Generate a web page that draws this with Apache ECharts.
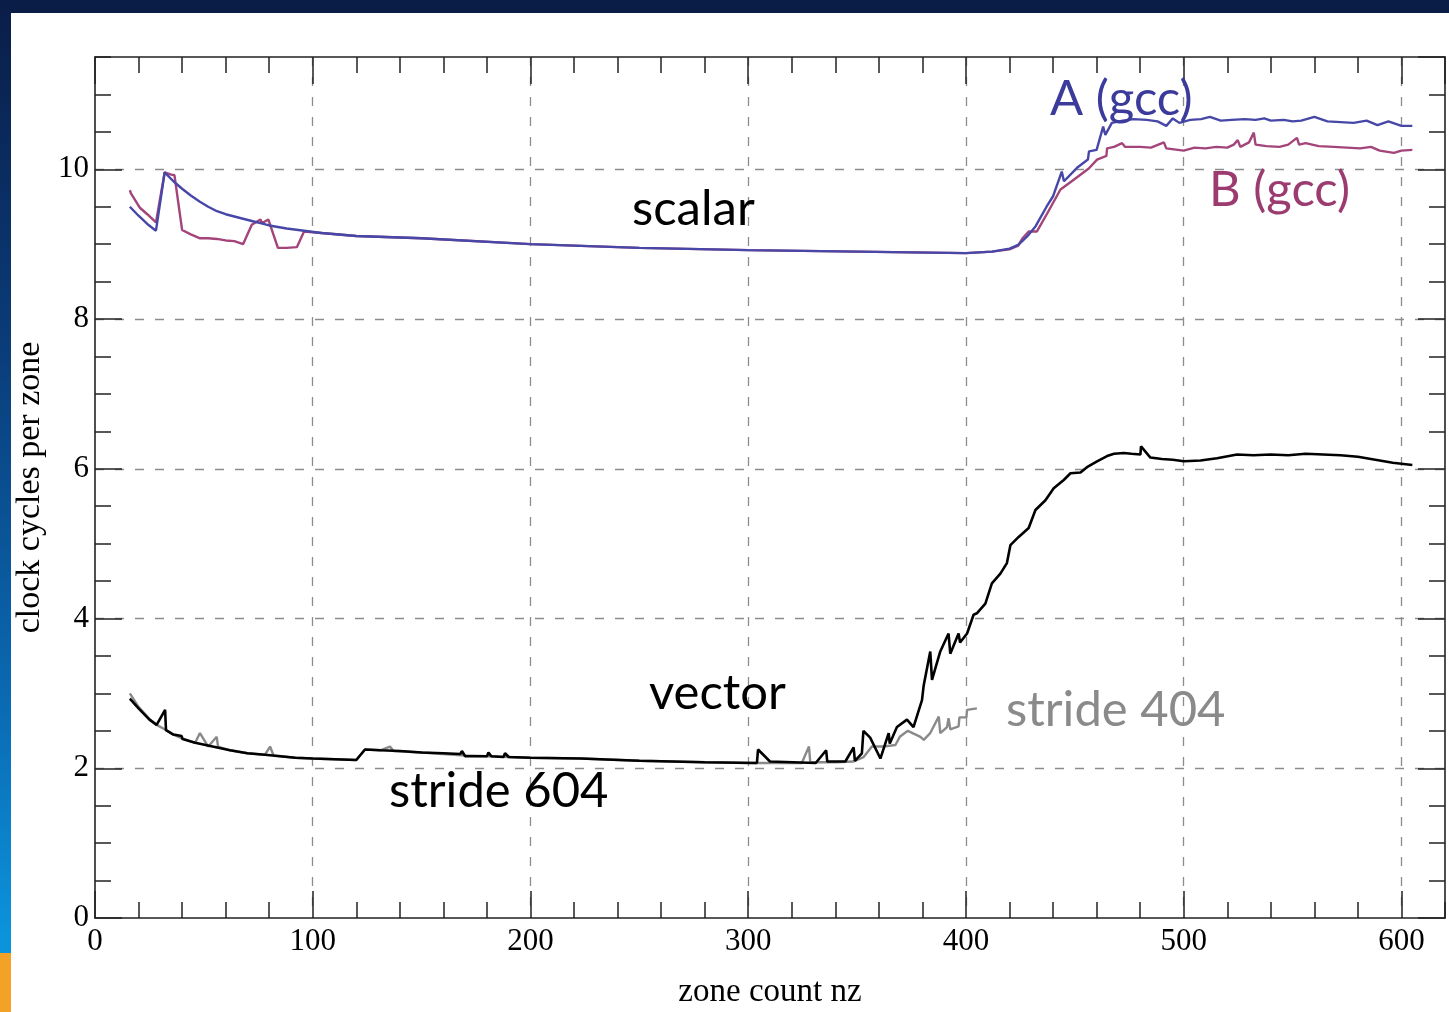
<!DOCTYPE html>
<html>
<head>
<meta charset="utf-8">
<title>clock cycles per zone</title>
<script src="https://cdn.jsdelivr.net/npm/echarts@6/dist/echarts.min.js"></script>
<style>
  html, body { margin: 0; padding: 0; background: #ffffff; }
  #chart { width: 1449px; height: 1012px; }
</style>
</head>
<body>
<div id="chart"></div>
<script>
// zone count nz (x) and clock cycles per zone (y) for each run

// scalar, compiler A (gcc)
const scalarAx = [16, 20, 24, 28, 32, 36, 40, 44, 48, 52, 56, 60, 64, 68, 72, 76, 80, 88, 96, 104,
  120, 150, 200, 250, 300, 350, 400, 412, 420, 424, 428, 432, 437, 440, 444, 445, 451, 456, 456.5,
  460, 463, 464, 467, 472, 477, 483, 488, 492, 495, 498, 503, 508, 512, 517, 522, 528, 533, 537,
  540, 546, 550, 554, 560, 566, 572, 578, 584, 589, 594, 600, 605];
const scalarAy = [9.50, 9.38, 9.27, 9.18, 9.96, 9.84, 9.74, 9.65, 9.57, 9.50, 9.44, 9.40, 9.37, 9.34, 9.31, 9.28, 9.25, 9.21, 9.18, 9.15,
  9.11, 9.08, 9.00, 8.95, 8.92, 8.90, 8.88, 8.90, 8.94, 8.99, 9.10, 9.24, 9.50, 9.64, 9.97, 9.84, 10.02, 10.13, 10.24,
  10.26, 10.57, 10.46, 10.62, 10.65, 10.67, 10.66, 10.64, 10.58, 10.68, 10.62, 10.66, 10.67, 10.70, 10.65, 10.66, 10.67, 10.66, 10.68,
  10.65, 10.66, 10.64, 10.65, 10.70, 10.64, 10.63, 10.62, 10.65, 10.59, 10.64, 10.58, 10.58];

// scalar, compiler B (gcc)
const scalarBx = [16, 16.5, 20.5, 24, 28, 32, 35, 36.5, 40, 44, 48, 52, 56, 60, 64, 68, 72, 76, 76.6, 79.6,
  84, 88, 92.7, 96, 104, 120, 150, 200, 250, 300, 350, 400, 412, 420, 424, 426, 428.8, 432.6, 437.3,
  443.4, 449.5, 456.4, 460.2, 464.5, 464.8, 468, 471.7, 472.5, 473, 480, 485, 490.9, 492, 500, 505, 510,
  515, 520, 523, 524.8, 526, 530, 532.2, 533, 538, 544, 548, 552, 553, 556, 562, 569, 575, 581, 586,
  590, 596.5, 600, 605];
const scalarBy = [9.72, 9.68, 9.49, 9.40, 9.29, 9.96, 9.93, 9.92, 9.19, 9.13, 9.08, 9.08, 9.07, 9.05, 9.04, 9.00, 9.26, 9.33, 9.28, 9.33,
  8.95, 8.95, 8.96, 9.17, 9.15, 9.11, 9.08, 9.00, 8.95, 8.92, 8.90, 8.88, 8.90, 8.93, 8.98, 9.08, 9.17, 9.17, 9.41,
  9.73, 9.86, 10.01, 10.13, 10.18, 10.28, 10.30, 10.35, 10.36, 10.30, 10.30, 10.29, 10.36, 10.28, 10.25, 10.29, 10.28,
  10.30, 10.29, 10.33, 10.39, 10.30, 10.36, 10.49, 10.33, 10.31, 10.30, 10.33, 10.42, 10.33, 10.35, 10.31, 10.30, 10.29, 10.28, 10.30,
  10.25, 10.22, 10.25, 10.26];

// vector, stride 604
const vec604x = [16, 20, 25, 28.3, 32.2, 32.6, 36, 39.8, 40.2, 46, 54, 62, 70, 78, 85, 92, 100, 110, 120, 124,
  131, 140, 150, 160, 167.7, 168.5, 170, 180, 180.7, 182, 187.6, 188.3, 190, 200, 223, 250, 280, 304, 304.5, 310,
  331, 335.8, 336.3, 344.6, 348.4, 349, 352.2, 352.9, 356, 360.7, 364.5, 365, 368.3, 372.9, 375.9, 379.8, 380.6, 383.6,
  384.4, 388.2, 392, 392.8, 396.6, 397.3, 400.5, 403.5, 405, 408.9, 411.9, 415.8, 418.8, 420.4, 424.2, 428.8, 431.9,
  436.5, 440.3, 444.9, 448, 452.6, 456, 460.2, 464.8, 468, 472.5, 476, 480.1, 480.4, 484.7, 490, 495, 500, 507.7,
  515.3, 524.5, 532, 540, 548, 556, 564, 572, 580, 588, 596, 605];
const vec604y = [2.93, 2.80, 2.65, 2.58, 2.78, 2.51, 2.45, 2.43, 2.39, 2.34, 2.29, 2.24, 2.20, 2.18, 2.16, 2.14, 2.13, 2.12, 2.11, 2.25,
  2.24, 2.23, 2.21, 2.20, 2.19, 2.23, 2.16, 2.16, 2.21, 2.16, 2.15, 2.20, 2.15, 2.14, 2.13, 2.10, 2.08, 2.07, 2.25, 2.09,
  2.07, 2.24, 2.09, 2.09, 2.28, 2.10, 2.20, 2.50, 2.41, 2.13, 2.47, 2.33, 2.55, 2.65, 2.55, 2.91, 3.11, 3.56,
  3.18, 3.56, 3.80, 3.53, 3.80, 3.68, 3.80, 4.05, 4.07, 4.20, 4.47, 4.60, 4.74, 4.98, 5.09, 5.21, 5.45,
  5.58, 5.74, 5.85, 5.94, 5.95, 6.03, 6.10, 6.17, 6.20, 6.21, 6.20, 6.19, 6.30, 6.15, 6.13, 6.12, 6.10, 6.11,
  6.14, 6.19, 6.18, 6.19, 6.18, 6.20, 6.19, 6.18, 6.16, 6.12, 6.08, 6.05];

// vector, stride 404
const vec404x = [16, 20, 25, 28.3, 32.6, 36, 40, 46, 48.2, 52, 55.9, 56.5, 62, 70, 78, 80.4, 82, 92, 100, 110,
  120, 124, 131, 135.5, 137, 150, 170, 200, 223, 250, 280, 300, 324.6, 327.9, 328.5, 340, 348.4, 353, 356.8,
  362.2, 367.6, 369.6, 373.3, 379.1, 380.6, 383.6, 384.5, 387.5, 388.2, 391.3, 392, 392.8, 396.6, 397, 400.2,
  400.5, 405];
const vec404y = [3.00, 2.82, 2.66, 2.58, 2.51, 2.45, 2.40, 2.34, 2.47, 2.29, 2.42, 2.29, 2.24, 2.20, 2.18, 2.29, 2.17, 2.14, 2.13, 2.12,
  2.11, 2.25, 2.24, 2.29, 2.23, 2.21, 2.17, 2.14, 2.13, 2.10, 2.08, 2.07, 2.07, 2.29, 2.08, 2.08, 2.09, 2.15, 2.29,
  2.29, 2.31, 2.42, 2.50, 2.42, 2.38, 2.47, 2.45, 2.69, 2.47, 2.55, 2.67, 2.52, 2.56, 2.68, 2.68,
  2.78, 2.80];

// axis ranges and tick spacing
const xRange = [0, 620];
const yRange = [0, 11.5];
const xMajor = 100, xMinor = 20;
const yMajor = 2, yMinor = 0.5;

const pairs = (xs, ys) => xs.map((x, i) => [x, ys[i]]);

const SERIF = '"Liberation Serif", "DejaVu Serif", serif';
const SANS = 'Lato, "Open Sans", sans-serif';
const FRAME = '#222222';

function axisDef(dim, pos, major, showLabels) {
  const range = dim === 'x' ? xRange : yRange;
  const step = major ? (dim === 'x' ? xMajor : yMajor) : (dim === 'x' ? xMinor : yMinor);
  const main = major && showLabels;
  return {
    type: 'value',
    position: pos,
    min: range[0],
    max: range[1],
    interval: step,
    axisLine: { show: major, onZero: false, lineStyle: { color: FRAME, width: 1.6 } },
    axisTick: { show: true, inside: true, length: major ? 27 : 16, lineStyle: { color: FRAME, width: 1.5 } },
    axisLabel: {
      show: main,
      showMaxLabel: false,
      margin: dim === 'x' ? 8 : 6,
      fontFamily: SERIF,
      fontSize: 31,
      color: '#000'
    },
    splitLine: {
      show: main,
      showMinLine: false,
      showMaxLine: false,
      lineStyle: { color: '#8c8c8c', width: 1.3, type: [9, 11] }
    }
  };
}

const xAxes = [
  Object.assign(axisDef('x', 'bottom', true, true), {
    name: 'zone count nz', nameLocation: 'middle', nameGap: 58,
    nameTextStyle: { fontFamily: SERIF, fontSize: 33, color: '#000' }
  }),
  axisDef('x', 'bottom', false, false),
  axisDef('x', 'top', true, false),
  axisDef('x', 'top', false, false)
];
const yAxes = [
  Object.assign(axisDef('y', 'left', true, true), {
    name: 'clock cycles per zone', nameLocation: 'middle', nameGap: 46,
    nameTextStyle: { fontFamily: SERIF, fontSize: 34, color: '#000' }
  }),
  axisDef('y', 'left', false, false),
  axisDef('y', 'right', true, false),
  axisDef('y', 'right', false, false)
];

function lineSeries(name, xs, ys, color, width) {
  return {
    name, type: 'line', xAxisIndex: 0, yAxisIndex: 0,
    data: pairs(xs, ys),
    showSymbol: false, symbol: 'none', smooth: false,
    lineStyle: { color, width },
    silent: true
  };
}

const label = (text, x, y, fill) => ({
  type: 'text', x, y, z: 100,
  style: { text, fill, font: '49px ' + SANS, textAlign: 'left', textVerticalAlign: 'middle' }
});

const chart = echarts.init(document.getElementById('chart'), null, { renderer: 'canvas' });
chart.setOption({
  animation: false,
  backgroundColor: '#ffffff',
  grid: { left: 95, right: 4, top: 57, bottom: 94, containLabel: false, outerBoundsMode: 'none' },
  xAxis: xAxes,
  yAxis: yAxes,
  series: [
    lineSeries('stride 404', vec404x, vec404y, '#8a8a8a', 2.4),
    lineSeries('stride 604', vec604x, vec604y, '#000000', 2.6),
    lineSeries('B (gcc)', scalarBx, scalarBy, '#a3457a', 2.4),
    lineSeries('A (gcc)', scalarAx, scalarAy, '#4747a8', 2.4)
  ],
  graphic: [
    // slide frame: dark band on top, gradient strip down the left edge
    { type: 'rect', x: 0, y: 0, z: -10, shape: { width: 1449, height: 13 }, style: { fill: '#0a1d47' } },
    {
      type: 'rect', x: 0, y: 0, z: -10, shape: { width: 11, height: 1012 },
      style: {
        fill: new echarts.graphic.LinearGradient(0, 0, 0, 1, [
          { offset: 0, color: '#0a1d47' },
          { offset: 0.35, color: '#0a3d7a' },
          { offset: 0.7, color: '#0a6bb4' },
          { offset: 0.93, color: '#0b94dc' },
          { offset: 1, color: '#0b94dc' }
        ])
      }
    },
    { type: 'rect', x: 0, y: 953, z: -9, shape: { width: 11, height: 59 }, style: { fill: '#f4a127' } },
    label('scalar', 632, 209, '#000000'),
    label('A (gcc)', 1050, 99, '#3b3b9c'),
    label('B (gcc)', 1209, 190, '#9b3b6f'),
    label('vector', 649, 693, '#000000'),
    label('stride 604', 389, 791, '#000000'),
    label('stride 404', 1006, 710, '#8a8a8a')
  ]
});
</script>
</body>
</html>
